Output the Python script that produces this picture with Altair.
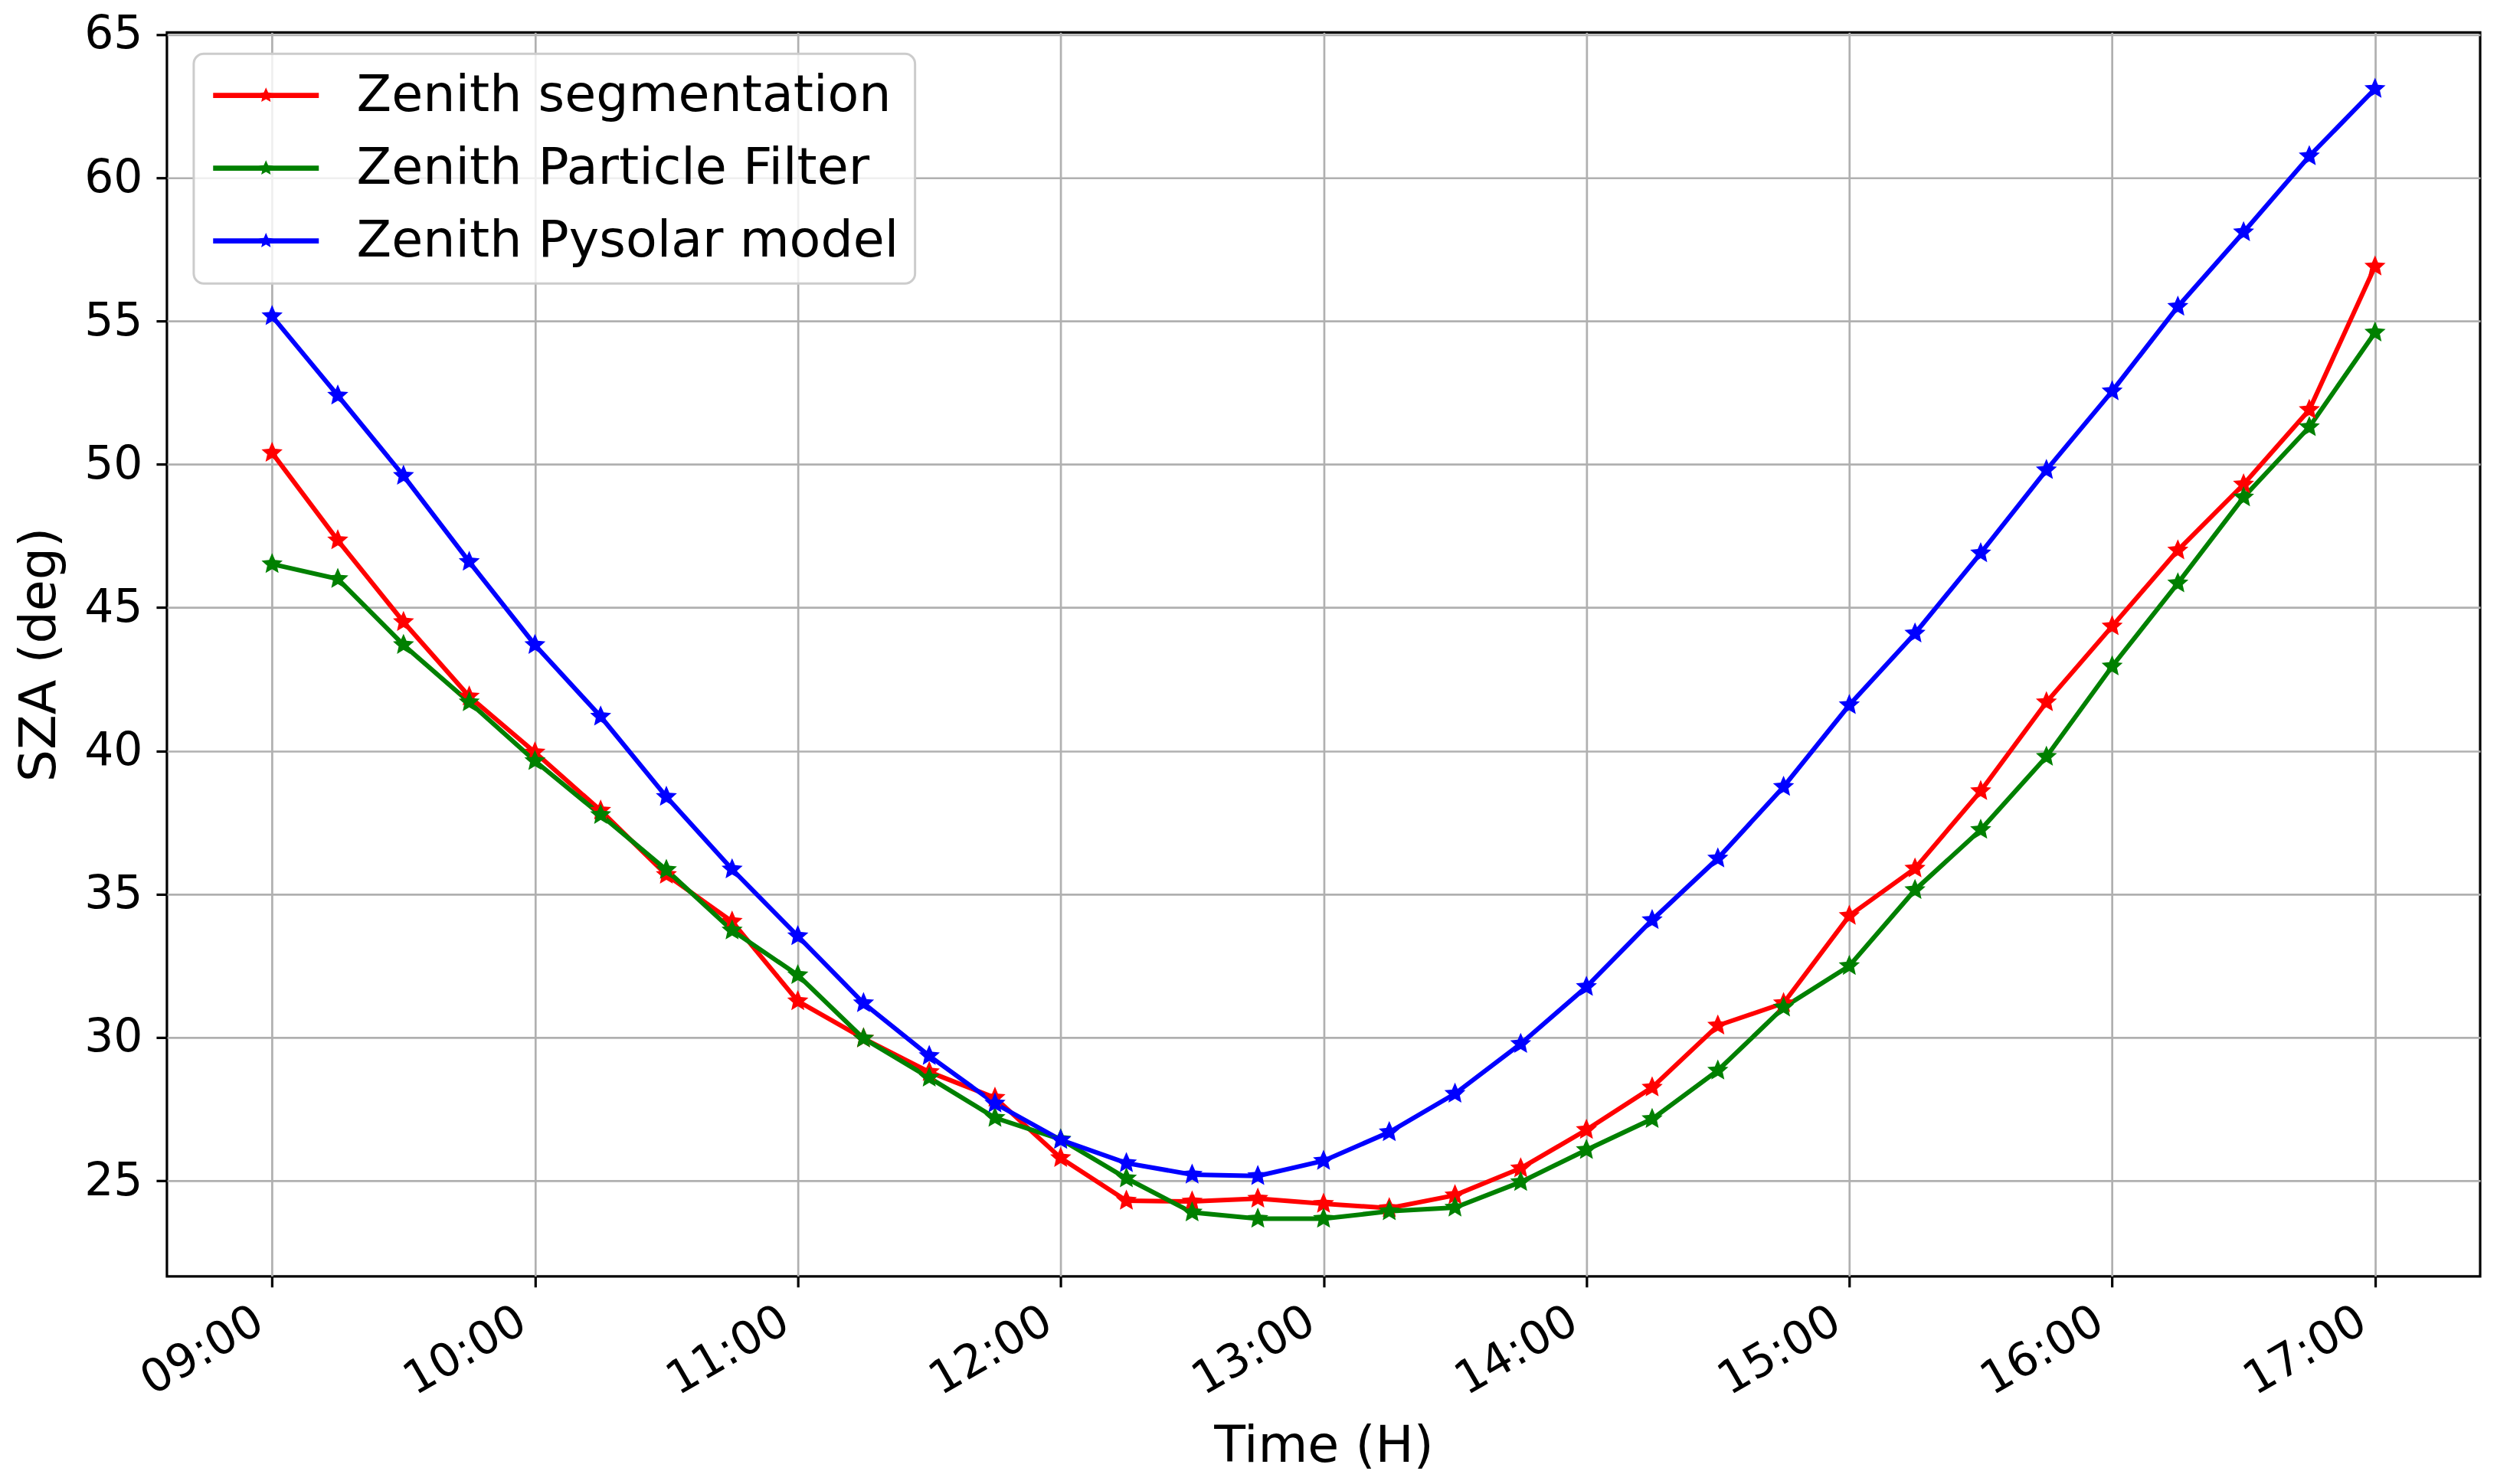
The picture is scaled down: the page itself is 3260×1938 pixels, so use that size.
import altair as alt
import pandas as pd

# ---- data ----
times = ["09:00", "09:15", "09:30", "09:45", "10:00", "10:15", "10:30", "10:45",
         "11:00", "11:15", "11:30", "11:45", "12:00", "12:15", "12:30", "12:45",
         "13:00", "13:15", "13:30", "13:45", "14:00", "14:15", "14:30", "14:45",
         "15:00", "15:15", "15:30", "15:45", "16:00", "16:15", "16:30", "16:45",
         "17:00"]

seg = [50.4, 47.35, 44.5, 41.9, 39.95, 37.92, 35.68, 34.05, 31.27, 29.97, 28.8, 27.9,
       25.8, 24.31, 24.28, 24.38, 24.2, 24.05, 24.5, 25.44, 26.78, 28.26, 30.42, 31.2,
       34.25, 35.9, 38.6, 41.7, 44.35, 47.0, 49.3, 51.9, 56.9]

pf = [46.52, 46.0, 43.7, 41.7, 39.65, 37.77, 35.85, 33.74, 32.18, 29.97, 28.6, 27.2,
      26.45, 25.09, 23.9, 23.68, 23.68, 23.94, 24.07, 24.96, 26.08, 27.16, 28.85, 31.05,
      32.5, 35.15, 37.25, 39.8, 42.95, 45.85, 48.85, 51.3, 54.6]

pysolar = [55.17, 52.4, 49.6, 46.6, 43.7, 41.2, 38.4, 35.87, 33.54, 31.2, 29.36, 27.7,
           26.43, 25.62, 25.22, 25.17, 25.7, 26.7, 28.04, 29.78, 31.77, 34.1, 36.25, 38.75,
           41.6, 44.1, 46.9, 49.8, 52.55, 55.5, 58.1, 60.75, 63.1]

series_names = ["Zenith segmentation", "Zenith Particle Filter", "Zenith Pysolar model"]
series_colors = ["#ff0000", "#008000", "#0000ff"]

x_tick_labels = ["09:00", "10:00", "11:00", "12:00", "13:00", "14:00", "15:00", "16:00", "17:00"]
y_ticks = [25, 30, 35, 40, 45, 50, 55, 60, 65]

# ---- build table ----
rows = []
for name, vals in zip(series_names, [seg, pf, pysolar]):
    for t, v in zip(times, vals):
        h, m = t.split(":")
        rows.append({"time": t, "hours": int(h) + int(m) / 60.0,
                     "series": name, "series_line": name, "sza": v})
df = pd.DataFrame(rows)
x_tick_values = [int(t.split(":")[0]) for t in x_tick_labels]

STAR = ("M0,-1 L0.2704,-0.3721 L0.9511,-0.309 L0.4375,0.1421 L0.5878,0.809 L0,0.46 "
        "L-0.5878,0.809 L-0.4375,0.1421 L-0.9511,-0.309 L-0.2704,-0.3721 Z")
LEGEND_SYMBOL = ("M-4.76,-0.23 L4.76,-0.23 L4.76,0.23 L-4.76,0.23 Z "
                 "M0,-0.72 L0.1947,-0.2679 L0.6848,-0.2225 L0.315,0.1023 L0.4232,0.5825 "
                 "L0,0.3312 L-0.4232,0.5825 L-0.315,0.1023 L-0.6848,-0.2225 L-0.1947,-0.2679 Z")

FONT = "DejaVu Sans"

x_enc = alt.X("hours:Q",
              scale=alt.Scale(domain=[8.6, 17.4], nice=False, zero=False),
              axis=alt.Axis(title="Time (H)", values=x_tick_values,
                            labelExpr="(datum.value < 10 ? '0' : '') + datum.value + ':00'",
                            labelAngle=330, labelAlign="right", labelBaseline="top",
                            labelPadding=14.5, labelOffset=-31, labelFlush=False,
                            labelOverlap=False, titlePadding=23))
y_enc = alt.Y("sza:Q",
              scale=alt.Scale(domain=[21.67, 65.07], nice=False, zero=False),
              axis=alt.Axis(title="SZA (deg)", values=y_ticks, labelPadding=18,
                            labelFlush=False, labelOverlap=False, titlePadding=24))

# sorted order of the names gives the range order for the line stroke scale
sorted_names = sorted(series_names)
line_colors = [series_colors[series_names.index(n)] for n in sorted_names]

lines = alt.Chart(df).mark_line(strokeWidth=6).encode(
    x=x_enc, y=y_enc,
    stroke=alt.Stroke("series_line:N", scale=alt.Scale(range=line_colors), legend=None),
)

points = alt.Chart(df).mark_point(filled=True, opacity=1, shape=STAR, size=841,
                                  strokeWidth=0).encode(
    x=x_enc, y=y_enc,
    color=alt.Color("series:N", scale=alt.Scale(domain=series_names, range=series_colors),
                    legend=alt.Legend(title=None, orient="none", legendX=35, legendY=28,
                                      direction="vertical",
                                      symbolType=LEGEND_SYMBOL, symbolSize=841,
                                      symbolStrokeWidth=0, symbolOffset=40,
                                      labelOffset=85, labelFontSize=66.7, labelLimit=2000,
                                      labelFont=FONT, labelColor="black",
                                      padding=21, rowPadding=27,
                                      fillColor="rgba(255,255,255,0.8)",
                                      strokeColor="#cccccc", cornerRadius=13)),
)

chart = alt.layer(lines, points).properties(
    width=3021, height=1625,
    autosize=alt.AutoSizeParams(type="none"),
    padding={"left": 210, "top": 34, "right": 14, "bottom": 270},
).configure_view(
    stroke="black", strokeWidth=3.2
).configure_axis(
    grid=True, gridColor="#b0b0b0", gridWidth=2.7, domain=False,
    tickColor="black", tickWidth=3.2, tickSize=14,
    labelFont=FONT, labelFontSize=60, labelColor="black",
    titleFont=FONT, titleFontSize=66.7, titleFontWeight="normal", titleColor="black",
).configure_legend(strokeWidth=3)

chart.save("out.html", embed_options={"renderer": "svg", "actions": False})
